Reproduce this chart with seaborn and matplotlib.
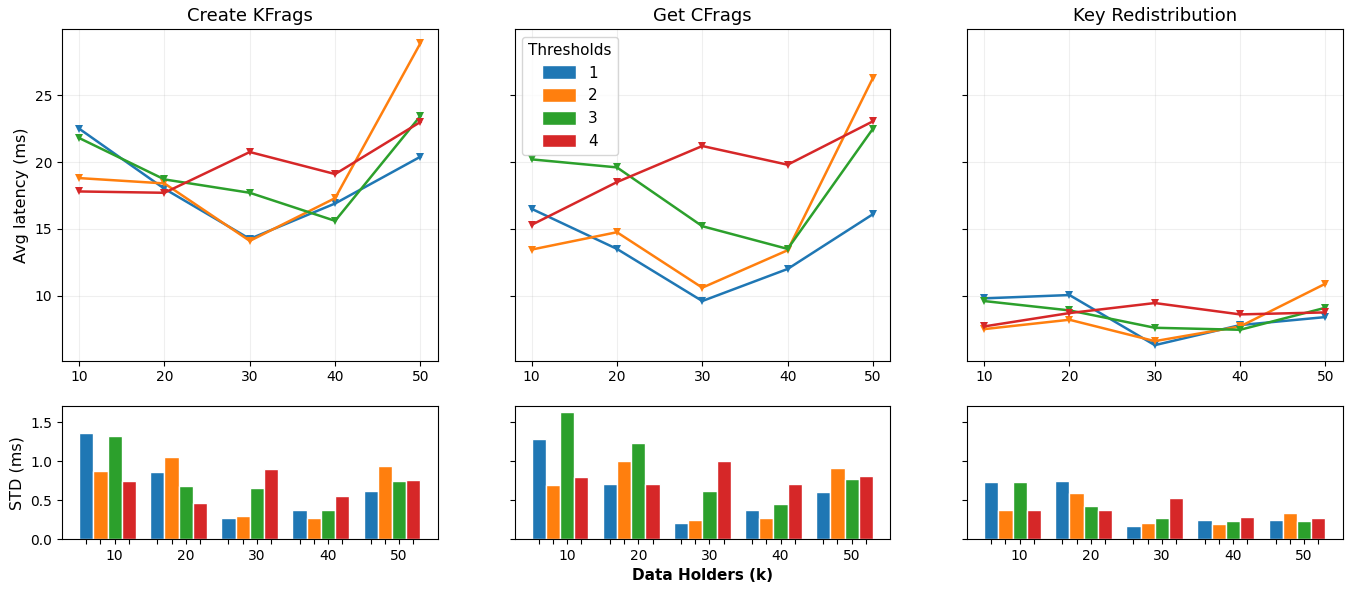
import numpy as np
import pandas as pd
import matplotlib
matplotlib.use("Agg")
import matplotlib.pyplot as plt
import seaborn as sns

# x values (data holders, in thousands) and threshold labels
holders = [10, 20, 30, 40, 50]
thresholds = ["1", "2", "3", "4"]
titles = ["Create KFrags", "Get CFrags", "Key Redistribution"]

# avg latency (ms), one list per threshold
create_avg = [
    [22.5, 18.0, 14.25, 16.9, 20.4],
    [18.8, 18.4, 14.1, 17.3, 28.9],
    [21.8, 18.7, 17.7, 15.6, 23.45],
    [17.8, 17.7, 20.75, 19.1, 23.0],
]
get_avg = [
    [16.5, 13.5, 9.6, 12.0, 16.1],
    [13.45, 14.75, 10.6, 13.4, 26.3],
    [20.2, 19.6, 15.2, 13.5, 22.5],
    [15.3, 18.5, 21.2, 19.8, 23.05],
]
redist_avg = [
    [9.8, 10.05, 6.3, 7.8, 8.4],
    [7.5, 8.2, 6.6, 7.7, 10.9],
    [9.6, 8.9, 7.6, 7.45, 9.1],
    [7.7, 8.7, 9.45, 8.6, 8.75],
]

# standard deviation (ms), one list per threshold
create_std = [
    [1.365, 0.854, 0.27, 0.373, 0.614],
    [0.867, 1.05, 0.29, 0.275, 0.936],
    [1.32, 0.68, 0.657, 0.373, 0.738],
    [0.74, 0.468, 0.897, 0.558, 0.755],
]
get_std = [
    [1.28, 0.712, 0.2, 0.373, 0.6],
    [0.695, 0.996, 0.245, 0.275, 0.91],
    [1.635, 1.236, 0.614, 0.455, 0.768],
    [0.798, 0.712, 0.996, 0.712, 0.81],
]
redist_std = [
    [0.725, 0.74, 0.17, 0.245, 0.245],
    [0.373, 0.584, 0.2, 0.19, 0.33],
    [0.725, 0.43, 0.275, 0.232, 0.232],
    [0.373, 0.373, 0.528, 0.288, 0.275],
]

palette = sns.color_palette("tab10", 4)


def to_frame(values):
    rows = []
    for t, series in zip(thresholds, values):
        for k, v in zip(holders, series):
            rows.append({"k": k, "thr": t, "v": v})
    return pd.DataFrame(rows)


fig, axes = plt.subplots(2, 3, figsize=(13.63, 5.93), dpi=100, sharey="row",
                         gridspec_kw={"height_ratios": [2.5, 1]})
fig.subplots_adjust(left=0.0455, right=0.985, top=0.951, bottom=0.091,
                    wspace=0.205, hspace=0.198)

avgs = [create_avg, get_avg, redist_avg]
stds = [create_std, get_std, redist_std]

offsets = [-0.3, -0.1, 0.1, 0.3]
handles = None

for col in range(3):
    ax = axes[0, col]
    sns.lineplot(data=to_frame(avgs[col]), x="k", y="v", hue="thr",
                 palette=palette, marker="v", markersize=6,
                 markeredgewidth=0, linewidth=1.8, legend=False, ax=ax)
    ax.set_title(titles[col], fontsize=13)
    ax.set_xticks(holders)
    ax.set_xlabel("")
    ax.set_ylabel("Avg latency (ms)" if col == 0 else "", fontsize=11.5)
    ax.grid(True, alpha=0.2)

    bx = axes[1, col]
    sns.barplot(data=to_frame(stds[col]), x="k", y="v", hue="thr",
                palette=palette, saturation=1, edgecolor="white", linewidth=1,
                legend=True, ax=bx)
    if handles is None:
        handles, labels = bx.get_legend_handles_labels()
    bx.get_legend().remove()
    ticks = [i + o for i in range(len(holders)) for o in offsets]
    ticklabels = [str(h) if o == 0.1 else "" for h in holders for o in offsets]
    bx.set_xticks(ticks)
    bx.set_xticklabels(ticklabels)
    bx.set_xlim(-0.64, 4.64)
    bx.set_ylim(0, 1.70)
    bx.set_xlabel("Data Holders (k)" if col == 1 else "", fontweight="bold",
                  fontsize=11)
    bx.set_ylabel("STD (ms)" if col == 0 else "", fontsize=11.5)

axes[0, 0].set_ylim(5.15, 29.95)
axes[1, 0].set_yticks([0, 0.5, 1.0, 1.5])

axes[0, 1].legend(handles, labels, title="Thresholds", loc="upper left",
                  fontsize=11, title_fontsize=11, handlelength=2.2,
                  handleheight=1.0)

fig.savefig("out.png")
